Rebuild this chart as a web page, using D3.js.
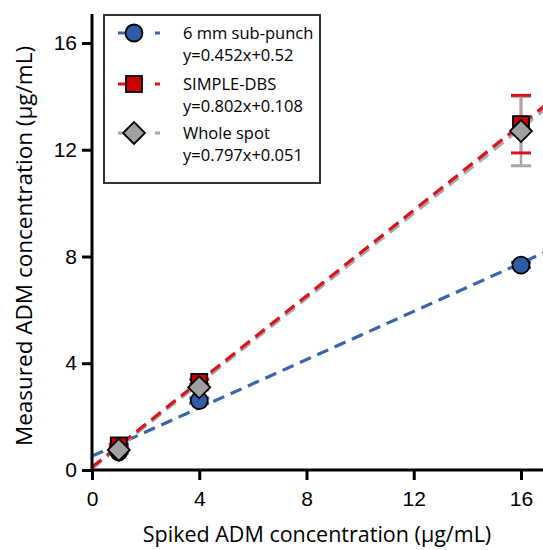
<!DOCTYPE html>
<html>
<head>
<meta charset="utf-8">
<script src="https://cdn.jsdelivr.net/npm/d3@7"></script>
<style>
  body { margin: 0; background: #fff; }
  svg { display: block; }
</style>
</head>
<body>
<script>
// spiked concentrations (x) and measured means per method
var spiked = [1, 4, 16];
var subPunch = [0.68, 2.6, 7.68];
var simpleDbs = [0.92, 3.3, 12.96];
var wholeSpot = [0.75, 3.1, 12.7];
// error bars (half ranges) read at each point
var simpleErr = [0.05, 0.1, 1.08];
var wholeErr = [0.05, 0.1, 1.3];
var subErr = [0.05, 0.1, 0.1];

var fits = [
  { name: "6 mm sub-punch", eq: "y=0.452x+0.52", slope: 0.452, icpt: 0.52 },
  { name: "SIMPLE-DBS", eq: "y=0.802x+0.108", slope: 0.802, icpt: 0.108 },
  { name: "Whole spot", eq: "y=0.797x+0.051", slope: 0.797, icpt: 0.051 }
];
var xTicks = [0, 4, 8, 12, 16];
var yTicks = [0, 4, 8, 12, 16];

var W = 543, H = 550;
var svg = d3.select("body").append("svg").attr("width", W).attr("height", H);

var x = d3.scaleLinear().domain([0, 16]).range([92, 521]);
var y = d3.scaleLinear().domain([0, 16]).range([470, 43]);
var xMax = x.invert(W + 5);
var yMax = y.invert(14);

var colors = {
  blue: "#3a65ad", blueFill: "#2e5ca6",
  red: "#d9141c", redFill: "#c80000",
  grey: "#a8a8a8", greyFill: "#a0a0a0"
};

var series = [
  { vals: subPunch, err: subErr, line: colors.blue, fill: colors.blueFill, shape: "circle", fit: fits[0] },
  { vals: simpleDbs, err: simpleErr, line: colors.red, fill: colors.redFill, shape: "square", fit: fits[1] },
  { vals: wholeSpot, err: wholeErr, line: colors.grey, fill: colors.greyFill, shape: "diamond", fit: fits[2] }
];

function marker(g, shape, fill, cx, cy) {
  if (shape == "circle") {
    g.append("circle").attr("cx", cx).attr("cy", cy).attr("r", 8.5)
      .attr("fill", fill).attr("stroke", "#000").attr("stroke-width", 1.8);
  } else if (shape == "square") {
    g.append("rect").attr("x", cx - 8).attr("y", cy - 8).attr("width", 16).attr("height", 16)
      .attr("fill", fill).attr("stroke", "#000").attr("stroke-width", 1.8);
  } else {
    var r = 11;
    g.append("path").attr("d", "M" + cx + "," + (cy - r) + "L" + (cx + r) + "," + cy + "L" + cx + "," + (cy + r) + "L" + (cx - r) + "," + cy + "Z")
      .attr("fill", fill).attr("stroke", "#000").attr("stroke-width", 1.8);
  }
}

// fit lines
var lineOrder = [0, 2, 1];
var fitG = svg.append("g");
lineOrder.forEach(function (i) {
  var s = series[i];
  var x2 = Math.min(xMax, (yMax - s.fit.icpt) / s.fit.slope);
  fitG.append("line")
    .attr("x1", x(0)).attr("y1", y(s.fit.icpt))
    .attr("x2", x(x2)).attr("y2", y(s.fit.slope * x2 + s.fit.icpt))
    .attr("stroke", s.line).attr("stroke-width", 3.2)
    .attr("stroke-dasharray", "12,7");
});

// error bars: verticals first (red, then grey over it), caps after
var errG = svg.append("g");
var capG = svg.append("g");
[0, 1, 2].forEach(function (i) {
  var s = series[i];
  spiked.forEach(function (xv, j) {
    var lo = y(s.vals[j] - s.err[j]), hi = y(s.vals[j] + s.err[j]);
    errG.append("line").attr("x1", x(xv)).attr("x2", x(xv)).attr("y1", lo).attr("y2", hi)
      .attr("stroke", s.line).attr("stroke-width", 2.5);
  });
});
[2, 1, 0].forEach(function (i) {
  var s = series[i];
  spiked.forEach(function (xv, j) {
    var lo = y(s.vals[j] - s.err[j]), hi = y(s.vals[j] + s.err[j]);
    [lo, hi].forEach(function (yy) {
      capG.append("line").attr("x1", x(xv) - 10).attr("x2", x(xv) + 10).attr("y1", yy).attr("y2", yy)
        .attr("stroke", s.line).attr("stroke-width", 3);
    });
  });
});

// markers
var markG = svg.append("g");
series.forEach(function (s) {
  spiked.forEach(function (xv, j) {
    marker(markG, s.shape, s.fill, x(xv), y(s.vals[j]));
  });
});

// axes
var tickFont = "'Liberation Sans', Arial, sans-serif";
var xAxis = svg.append("g").attr("transform", "translate(0,470)")
  .call(d3.axisBottom(x).tickValues(xTicks).tickSize(10).tickPadding(11).tickSizeOuter(0));
xAxis.select(".domain").attr("d", "M" + x(0) + ",0H" + W);
var yAxis = svg.append("g").attr("transform", "translate(92,0)")
  .call(d3.axisLeft(y).tickValues(yTicks).tickSize(10).tickPadding(5).tickSizeOuter(0));
yAxis.select(".domain").attr("d", "M0," + y(0) + "V14");
[xAxis, yAxis].forEach(function (a) {
  a.selectAll(".domain").attr("stroke", "#000").attr("stroke-width", 3);
  a.selectAll(".tick line").attr("stroke", "#000").attr("stroke-width", 3);
  a.selectAll(".tick text").attr("font-family", tickFont).attr("font-size", 21).attr("fill", "#000");
});
xAxis.selectAll(".tick line").attr("y1", -1);

// axis titles
var titleFont = "'Open Sans', 'Noto Sans', sans-serif";
svg.append("text").attr("x", 317).attr("y", 542).attr("text-anchor", "middle")
  .attr("font-family", titleFont).attr("font-size", 21.5).text("Spiked ADM concentration (µg/mL)");
svg.append("text").attr("transform", "translate(32,246) rotate(-90)").attr("text-anchor", "middle")
  .attr("font-family", titleFont).attr("font-size", 22.5).text("Measured ADM concentration (µg/mL)");

// legend
var leg = svg.append("g");
leg.append("rect").attr("x", 104).attr("y", 15).attr("width", 216).attr("height", 168)
  .attr("fill", "#fff").attr("stroke", "#333").attr("stroke-width", 2);
var rowY = [33, 84, 133];
series.forEach(function (s, i) {
  var cy = rowY[i];
  leg.append("line").attr("x1", 118).attr("x2", 161).attr("y1", cy).attr("y2", cy)
    .attr("stroke", s.line).attr("stroke-width", 3.2).attr("stroke-dasharray", "11,26,5");
  marker(leg, s.shape, s.fill, 134, cy);
  leg.append("text").attr("x", 183).attr("y", cy + 6).attr("font-family", titleFont)
    .attr("font-size", 16.5).text(s.fit.name);
  leg.append("text").attr("x", 183).attr("y", cy + 28).attr("font-family", titleFont)
    .attr("font-size", 16.5).text(s.fit.eq);
});
</script>
</body>
</html>
